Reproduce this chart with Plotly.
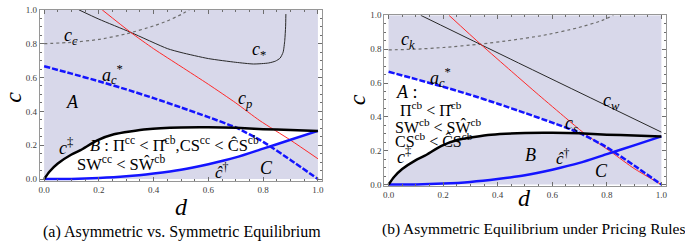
import plotly.graph_objects as go

# ---------------- data ----------------
# shared curves
D_ACS = [0, 0.1, 0.2, 0.3, 0.4, 0.5, 0.6, 0.7, 0.8, 0.9, 1.0]
C_ACS = [0.667, 0.623, 0.578, 0.53, 0.478, 0.423, 0.366, 0.305, 0.22, 0.113, 0.0]   # a_c^*

D_DDAG = [0, 0.02, 0.05, 0.1, 0.133, 0.194, 0.255, 0.376, 0.5, 0.6, 0.7, 0.8, 0.9, 1.0]
C_DDAG = [0, 0.045, 0.092, 0.145, 0.171, 0.229, 0.265, 0.295, 0.305, 0.306, 0.303, 0.295, 0.29, 0.284]  # c^‡

D_HAT = [0, 0.1, 0.2, 0.3, 0.4, 0.5, 0.6, 0.7, 0.8, 0.9, 1.0]
C_HAT = [0, 0.001, 0.006, 0.016, 0.033, 0.055, 0.088, 0.128, 0.18, 0.232, 0.285]   # ĉ^†

# panel (a)
D_CC = [0, 0.1, 0.2, 0.3, 0.4, 0.45, 0.5, 0.53]
C_CC = [0.80, 0.808, 0.825, 0.858, 0.905, 0.935, 0.972, 1.0]          # c_c
D_STAR = [0.127, 0.2, 0.316, 0.45, 0.5, 0.6, 0.7, 0.765, 0.82, 0.845, 0.862, 0.873, 0.879, 0.882, 0.883]
C_STAR = [1.0, 0.945, 0.867, 0.771, 0.748, 0.712, 0.69, 0.68, 0.686, 0.697, 0.715, 0.75, 0.82, 0.9, 0.975]  # c_*
D_P = [0.212, 0.316, 0.4, 0.5, 0.6, 0.7, 0.788, 0.9, 1.0]
C_P = [1.0, 0.867, 0.77, 0.665, 0.56, 0.45, 0.345, 0.23, 0.12]        # c_p

# panel (b)
D_K = [0, 0.1, 0.2, 0.337, 0.45, 0.568, 0.69, 0.78, 0.824]
C_K = [0.796, 0.80, 0.81, 0.83, 0.853, 0.882, 0.925, 0.968, 1.0]      # c_k
D_W = [0.118, 0.5, 1.0]
C_W = [1.0, 0.70, 0.31]                                              # c_w
D_S = [0.2215, 0.337, 0.45, 0.55, 0.65, 0.714, 0.818, 0.9, 1.0]
C_S = [1.0, 0.83, 0.67, 0.53, 0.393, 0.307, 0.19, 0.095, 0.0]         # c_s

D_CROSS = 0.7          # where a_c^* meets c^‡
D_BOX = [0, 1]
C_BOX = [0, 1]

D_TICKS = [0, 0.2, 0.4, 0.6, 0.8, 1.0]
TICK_TEXT = ["0.0", "0.2", "0.4", "0.6", "0.8", "1.0"]

# ---------------- styles ----------------
LAV = "rgb(216,216,234)"
BLUE = "rgb(20,20,255)"
RED = "rgb(255,40,40)"
DARK = "rgb(40,40,40)"
GRAY = "rgb(110,110,110)"
SERIF = "'Liberation Serif', 'Times New Roman', 'DejaVu Serif', serif"

fig = go.Figure()


def panel(xa, ya):
    return dict(xaxis=xa, yaxis=ya)


def add_box(xa, ya):
    x = [D_BOX[0], D_BOX[1], D_BOX[1], D_BOX[0], D_BOX[0]]
    y = [C_BOX[0], C_BOX[0], C_BOX[1], C_BOX[1], C_BOX[0]]
    fig.add_trace(go.Scatter(x=x, y=y, fill="toself", fillcolor=LAV, mode="lines",
                             line=dict(width=0, color=LAV), hoverinfo="skip",
                             showlegend=False, **panel(xa, ya)))


def add_fill(xs, ys, xa, ya):
    fig.add_trace(go.Scatter(x=xs, y=ys, fill="toself", fillcolor="white", mode="lines",
                             line=dict(width=0, color="white", shape="spline", smoothing=0.6),
                             hoverinfo="skip", showlegend=False, **panel(xa, ya)))


def add_line(xs, ys, color, width, dash, xa, ya):
    fig.add_trace(go.Scatter(x=xs, y=ys, mode="lines",
                             line=dict(color=color, width=width, dash=dash,
                                       shape="spline", smoothing=0.6),
                             hoverinfo="skip", showlegend=False, **panel(xa, ya)))


# ---- panel (a)
add_box("x", "y")
add_fill(D_DDAG + D_HAT[::-1], C_DDAG + C_HAT[::-1], "x", "y")
add_line(D_CC, C_CC, GRAY, 1.2, "dot", "x", "y")
add_line(D_STAR, C_STAR, DARK, 1, "solid", "x", "y")
add_line(D_P, C_P, RED, 1, "solid", "x", "y")
add_line(D_ACS, C_ACS, BLUE, 2.5, "6px,2px", "x", "y")
add_line(D_HAT, C_HAT, BLUE, 2.5, "solid", "x", "y")
add_line(D_DDAG, C_DDAG, "black", 2.5, "solid", "x", "y")

# ---- panel (b)
add_box("x2", "y2")
a_x = [d for d in D_ACS if d <= D_CROSS]
a_y = [c for d, c in zip(D_ACS, C_ACS) if d <= D_CROSS]
b_x = [d for d in D_DDAG if d <= D_CROSS][::-1]
b_y = [c for d, c in zip(D_DDAG, C_DDAG) if d <= D_CROSS][::-1]
add_fill(a_x + b_x, a_y + b_y, "x2", "y2")
add_line(D_K, C_K, GRAY, 1.2, "dot", "x2", "y2")
add_line(D_W, C_W, DARK, 1, "solid", "x2", "y2")
add_line(D_S, C_S, RED, 1, "solid", "x2", "y2")
add_line(D_ACS, C_ACS, BLUE, 2.5, "6px,2px", "x2", "y2")
add_line(D_HAT, C_HAT, BLUE, 2.5, "solid", "x2", "y2")
add_line(D_DDAG, C_DDAG, "black", 2.5, "solid", "x2", "y2")

# ---------------- axes ----------------
common = dict(tickmode="array", tickvals=D_TICKS, ticktext=TICK_TEXT,
              ticks="inside", ticklen=4, tickcolor=GRAY, tickwidth=1,
              minor=dict(ticks="inside", dtick=0.05, ticklen=2, tickcolor=GRAY, tickwidth=1),
              showline=True, linecolor="rgb(150,150,150)", linewidth=1, mirror="allticks",
              showgrid=False, zeroline=False, fixedrange=True,
              tickfont=dict(family=SERIF, size=9, color="rgb(60,60,60)"))

fig.update_layout(
    width=685, height=243, margin=dict(l=0, r=0, t=0, b=0),
    paper_bgcolor="white", plot_bgcolor="white", showlegend=False,
    xaxis=dict(domain=[0.0568, 0.4711], range=[-0.016, 1.016], anchor="y", **common),
    yaxis=dict(domain=[0.2521, 0.9794], range=[-0.01, 1.0], anchor="x", **common),
    xaxis2=dict(domain=[0.5619, 0.9747], range=[-0.016, 1.016], anchor="y2", **common),
    yaxis2=dict(domain=[0.2286, 0.956], range=[-0.01, 1.0], anchor="x2", **common),
)

# ---------------- text ----------------
def lab(text, x, y, xa, ya, size=16, xanchor="center"):
    fig.add_annotation(text=text, x=x, y=y, xref=xa, yref=ya, showarrow=False,
                       xanchor=xanchor, yanchor="middle",
                       font=dict(family=SERIF, size=size, color="black"))


def i(s):
    return "<i>" + s + "</i>"


# panel (a) labels
lab(i("c") + "<sub>" + i("c") + "</sub>", 0.1, 0.845, "x", "y", 18)
lab(i("c") + "<sub>*</sub>", 0.785, 0.76, "x", "y", 18)
lab(i("a") + "<sub>" + i("c") + "</sub><sup>*</sup>", 0.25, 0.615, "x", "y", 18)
lab(i("c") + "<sub>" + i("p") + "</sub>", 0.735, 0.47, "x", "y", 18)
lab(i("A"), 0.103, 0.457, "x", "y", 18)
lab(i("c") + "<sup>‡</sup>", 0.08, 0.195, "x", "y", 18)
lab(i("B") + " : Π<sup>cc</sup> &lt; Π̂<sup>cb</sup>,CS<sup>cc</sup> &lt; ĈS<sup>cb</sup>",
    0.475, 0.205, "x", "y", 16.5)
lab("SW<sup>cc</sup> &lt; SŴ<sup>cb</sup>", 0.28, 0.09, "x", "y", 16.5)
lab(i("ĉ") + "<sup>†</sup>", 0.65, 0.05, "x", "y", 17)
lab(i("C"), 0.812, 0.067, "x", "y", 18)

# panel (b) labels
lab(i("c") + "<sub>" + i("k") + "</sub>", 0.07, 0.85, "x2", "y2", 18)
lab(i("a") + "<sub>" + i("c") + "</sub><sup>*</sup>", 0.19, 0.63, "x2", "y2", 18)
lab(i("A") + " :", 0.02, 0.549, "x2", "y2", 18, "left")
lab("Π<sup>cb</sup> &lt; Π̂<sup>cb</sup>", 0.033, 0.446, "x2", "y2", 16, "left")
lab("SW<sup>cb</sup> &lt; SŴ<sup>cb</sup>", 0.018, 0.349, "x2", "y2", 16, "left")
lab("CS<sup>cb</sup> &lt; ĈS<sup>cb</sup>", 0.018, 0.263, "x2", "y2", 16, "left")
lab(i("c") + "<sub>" + i("w") + "</sub>", 0.818, 0.49, "x2", "y2", 18)
lab(i("c") + "<sub>" + i("s") + "</sub>", 0.672, 0.355, "x2", "y2", 18)
lab(i("c") + "<sup>‡</sup>", 0.057, 0.17, "x2", "y2", 18)
lab(i("B"), 0.52, 0.177, "x2", "y2", 18)
lab(i("ĉ") + "<sup>†</sup>", 0.641, 0.165, "x2", "y2", 17)
lab(i("C"), 0.781, 0.082, "x2", "y2", 18)


def paper_text(text, x, y, size, angle=0):
    fig.add_annotation(text=text, x=x / 685, y=1 - y / 243, xref="paper", yref="paper",
                       showarrow=False, xanchor="center", yanchor="middle", textangle=angle,
                       font=dict(family=SERIF, size=size, color="black"))


paper_text(i("c"), 12, 95, 24, -90)
paper_text(i("c"), 357, 98, 24, -90)
paper_text(i("d"), 181, 209, 24)
paper_text(i("d"), 526, 200, 24)
paper_text("(a) Asymmetric vs. Symmetric Equilibrium", 182, 235, 16)
paper_text("(b) Asymmetric Equilibrium under Pricing Rules", 535, 232, 15.5)

fig.write_html("out.html", config={"displayModeBar": False},
               post_script="document.body.style.margin='0';document.body.style.padding='0';")
